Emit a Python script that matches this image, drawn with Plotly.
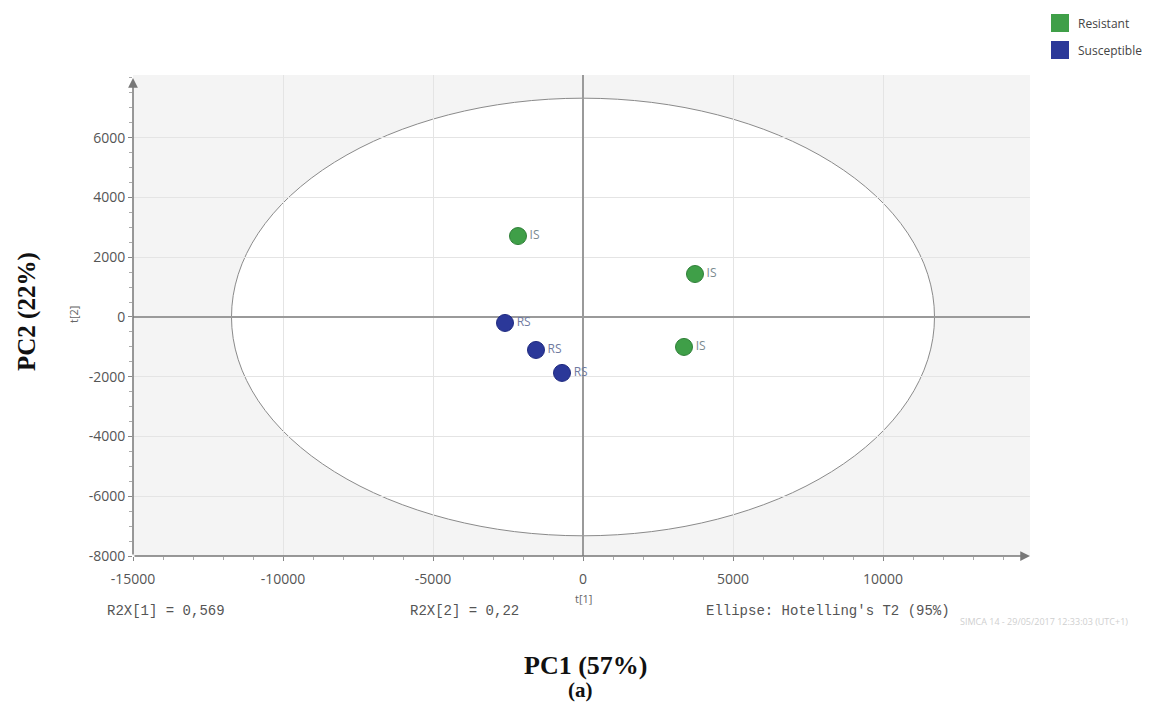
import plotly.graph_objects as go

# ---- data ----
resistant_x = [-2167, 3733, 3367]
resistant_y = [2709, 1438, -1003]
resistant_labels = ["IS", "IS", "IS"]
susceptible_x = [-2600, -1567, -700]
susceptible_y = [-200, -1104, -1873]
susceptible_labels = ["RS", "RS", "RS"]
ellipse_rx = 11717
ellipse_ry = 7324
x_ticks = [-15000, -10000, -5000, 0, 5000, 10000]
x_ticktext = ["-15000", "-10000", "-5000", "0", "5000", "10000"]
y_ticks = [-8000, -6000, -4000, -2000, 0, 2000, 4000, 6000]
y_ticktext = ["-8000", "-6000", "-4000", "-2000", "0", "2000", "4000", "6000"]
legend_names = ["Resistant", "Susceptible"]

GREEN = "#3f9f48"
BLUE = "#2b3899"

W, H = 1171, 705
L, R, T, B = 133, 1030, 75, 556
X_RANGE = [-15000, 14900]
Y_RANGE = [-8000, 8100]

def px(p):
    return (p - L) / (R - L)

def py(p):
    return (B - p) / (B - T)

fig = go.Figure()

fig.add_trace(go.Scatter(
    x=resistant_x, y=resistant_y, text=resistant_labels, name=legend_names[0],
    mode="markers+text", textposition="middle right",
    textfont=dict(family="Open Sans", size=12, color="#7a8a90"),
    marker=dict(size=17, color=GREEN, line=dict(color="#2f7f38", width=1)),
    showlegend=False, cliponaxis=False))
fig.add_trace(go.Scatter(
    x=susceptible_x, y=susceptible_y, text=susceptible_labels, name=legend_names[1],
    mode="markers+text", textposition="middle right",
    textfont=dict(family="Open Sans", size=12, color="#6f7aa0"),
    marker=dict(size=17, color=BLUE, line=dict(color="#1f2a80", width=1)),
    showlegend=False, cliponaxis=False))

# Hotelling ellipse (white interior)
fig.add_shape(type="circle", xref="x", yref="y",
              x0=-ellipse_rx, x1=ellipse_rx, y0=-ellipse_ry, y1=ellipse_ry,
              fillcolor="white", line=dict(color="#8a8a8a", width=1), layer="below")

# zero lines
fig.add_shape(type="line", xref="x", yref="y", x0=0, x1=0, y0=Y_RANGE[0], y1=Y_RANGE[1],
              line=dict(color="#9a9a9a", width=2), layer="between")
fig.add_shape(type="line", xref="x", yref="y", x0=X_RANGE[0], x1=X_RANGE[1], y0=0, y1=0,
              line=dict(color="#9a9a9a", width=2), layer="between")

# axis arrows
fig.add_annotation(x=X_RANGE[1], y=Y_RANGE[0], ax=X_RANGE[0], ay=Y_RANGE[0], xref="x", yref="y",
                   axref="x", ayref="y", showarrow=True, arrowhead=2, arrowsize=1.3,
                   arrowwidth=1.5, arrowcolor="#777777", text="")
fig.add_annotation(x=X_RANGE[0], y=8000, ax=X_RANGE[0], ay=Y_RANGE[0], xref="x", yref="y",
                   axref="x", ayref="y", showarrow=True, arrowhead=2, arrowsize=1.3,
                   arrowwidth=1.5, arrowcolor="#777777", text="")

# manual legend (square swatches)
for i, (name, col) in enumerate(zip(legend_names, [GREEN, BLUE])):
    cy = 23 + 27 * i
    fig.add_shape(type="rect", xref="paper", yref="paper",
                  x0=px(1051), x1=px(1069), y0=py(cy + 9), y1=py(cy - 9),
                  fillcolor=col, line=dict(width=0))
    fig.add_annotation(text=name, x=px(1076), y=py(cy), xref="paper", yref="paper",
                       showarrow=False, xanchor="left", yanchor="middle",
                       font=dict(family="Open Sans", size=12, color="#444444"))

mono = dict(family="Liberation Mono", size=14, color="#555555")
def note(text, x, y, font, angle=0, xanchor="center"):
    fig.add_annotation(text=text, x=px(x), y=py(y), xref="paper", yref="paper",
                       showarrow=False, font=font, textangle=angle,
                       xanchor=xanchor, yanchor="middle")

note("t[1]", 583, 598, dict(family="Open Sans", size=11, color="#666666"))
note("t[2]", 73, 315, dict(family="Open Sans", size=11, color="#666666"), angle=-90)
note("R2X[1] = 0,569", 105, 611, mono, xanchor="left")
note("R2X[2] = 0,22", 408, 611, mono, xanchor="left")
note("Ellipse: Hotelling's T2 (95%)", 704, 611, mono, xanchor="left")
note("SIMCA 14 - 29/05/2017 12:33:03 (UTC+1)", 958, 621,
     dict(family="Open Sans", size=9, color="#cfcfcf"), xanchor="left")
note("<b>PC1 (57%)</b>", 585, 665, dict(family="Liberation Serif", size=26, color="#111111"))
note("<b>(a)</b>", 580, 690, dict(family="Liberation Serif", size=21, color="#111111"))
note("<b>PC2 (22%)</b>", 27, 312, dict(family="Liberation Serif", size=25, color="#111111"), angle=-90)

tickfont = dict(family="Open Sans", size=14, color="#555555")
fig.update_xaxes(range=X_RANGE, tickvals=x_ticks, ticktext=x_ticktext, showgrid=True,
                 gridcolor="#e4e4e4", gridwidth=1, zeroline=False,
                 ticks="outside", ticklen=4, tickcolor="#888888", tickfont=tickfont,
                 ticklabelstandoff=6,
                 minor=dict(dtick=1000, ticks="outside", ticklen=3, tickcolor="#aaaaaa", showgrid=False),
                 showline=False)
fig.update_yaxes(range=Y_RANGE, tickvals=y_ticks, ticktext=y_ticktext, showgrid=True,
                 gridcolor="#e4e4e4", gridwidth=1, zeroline=False,
                 ticks="outside", ticklen=4, tickcolor="#888888", tickfont=tickfont,
                 minor=dict(dtick=500, ticks="outside", ticklen=3, tickcolor="#aaaaaa", showgrid=False),
                 showline=False)

fig.update_layout(
    width=W, height=H, autosize=False,
    margin=dict(l=L, r=W - R, t=T, b=H - B),
    plot_bgcolor="#f4f4f4", paper_bgcolor="white",
    showlegend=False,
)

fig.write_html("out.html")
